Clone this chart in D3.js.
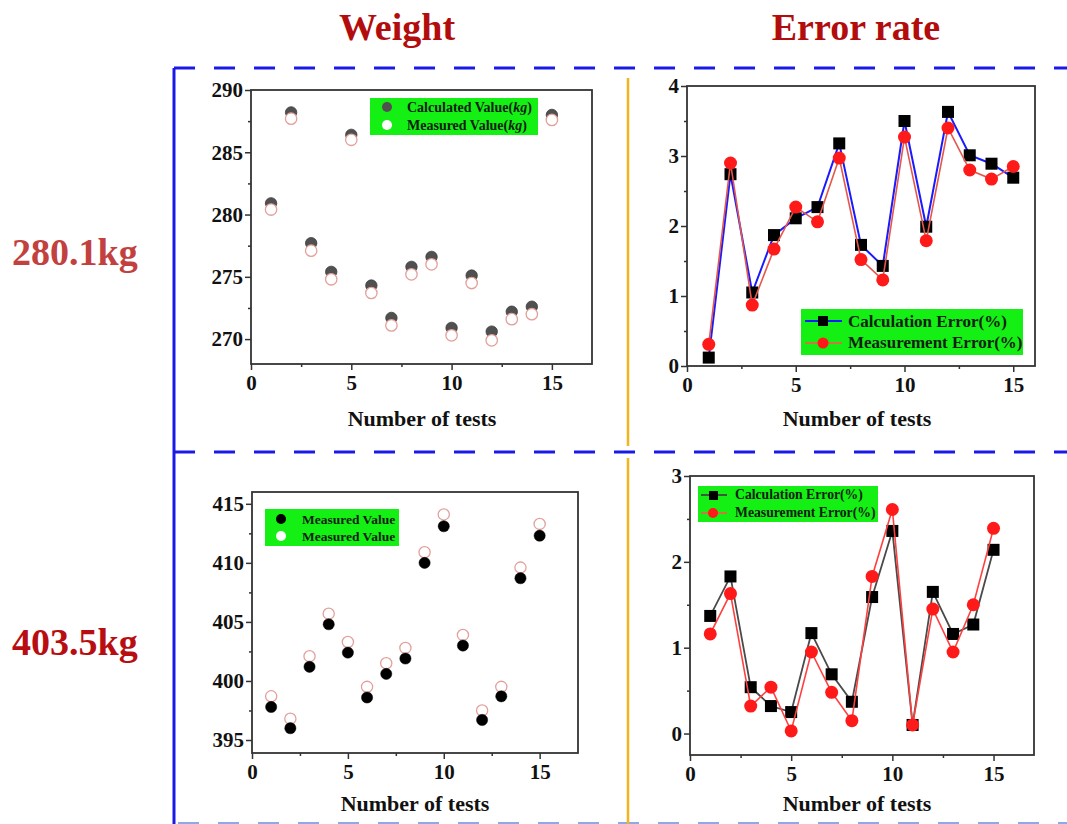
<!DOCTYPE html>
<html>
<head>
<meta charset="utf-8">
<script src="https://cdn.jsdelivr.net/npm/d3@7"></script>
<style>
  html, body { margin: 0; padding: 0; background: #fff; }
  svg { display: block; }
  text { font-family: "Liberation Serif", "Times New Roman", serif; font-weight: bold; }
</style>
</head>
<body>
<svg id="chart" width="1067" height="824"></svg>
<script>
// ---- data -------------------------------------------------------------
const tests = [1, 2, 3, 4, 5, 6, 7, 8, 9, 10, 11, 12, 13, 14, 15];

// 280.1 kg load: weight (kg)
const weight280Calculated = [280.9, 288.2, 277.7, 275.4, 286.4, 274.3, 271.7, 275.8, 276.6, 270.9, 275.1, 270.6, 272.2, 272.6, 288.0];
const weight280Measured   = [280.4, 287.7, 277.1, 274.8, 286.0, 273.7, 271.1, 275.2, 276.0, 270.3, 274.5, 269.9, 271.6, 272.0, 287.6];

// 280.1 kg load: error rate (%)
const error280Calculation = [0.12, 2.74, 1.05, 1.87, 2.11, 2.27, 3.18, 1.73, 1.43, 3.50, 1.99, 3.63, 3.01, 2.89, 2.69];
const error280Measurement = [0.31, 2.90, 0.87, 1.67, 2.27, 2.06, 2.97, 1.52, 1.23, 3.27, 1.79, 3.40, 2.80, 2.67, 2.85];

// 403.5 kg load: weight (kg)
const weight403Filled = [397.8, 396.0, 401.2, 404.8, 402.4, 398.6, 400.6, 401.9, 410.0, 413.1, 403.0, 396.7, 398.7, 408.7, 412.3];
const weight403Open   = [398.7, 396.8, 402.1, 405.7, 403.3, 399.5, 401.5, 402.8, 410.9, 414.1, 403.9, 397.5, 399.5, 409.6, 413.3];

// 403.5 kg load: error rate (%)
const error403Calculation = [1.37, 1.83, 0.54, 0.32, 0.25, 1.17, 0.69, 0.37, 1.59, 2.36, 0.10, 1.65, 1.16, 1.27, 2.14];
const error403Measurement = [1.16, 1.63, 0.32, 0.54, 0.03, 0.95, 0.48, 0.15, 1.83, 2.61, 0.10, 1.45, 0.95, 1.50, 2.39];

// tick values
const xTicks = [0, 5, 10, 15];
const xMinorTicks = [2.5, 7.5, 12.5];
const yTicksW280 = [270, 275, 280, 285, 290];
const yMinorW280 = [272.5, 277.5, 282.5, 287.5];
const yTicksE280 = [0, 1, 2, 3, 4];
const yMinorE280 = [0.5, 1.5, 2.5, 3.5];
const yTicksW403 = [395, 400, 405, 410, 415];
const yMinorW403 = [397.5, 402.5, 407.5, 412.5];
const yTicksE403 = [0, 1, 2, 3];
const yMinorE403 = [0.5, 1.5, 2.5];

// legend labels
const legendW280 = ["Calculated Value", "Measured Value"];
const legendE = ["Calculation Error(%)", "Measurement Error(%)"];
const legendW403 = ["Measured Value", "Measured Value"];

const svg = d3.select("#chart");

// ---- section frame ----------------------------------------------------
const frame = svg.append("g");
frame.append("line").attr("x1", 174).attr("x2", 174).attr("y1", 68).attr("y2", 824)
  .attr("stroke", "#1a1ae6").attr("stroke-width", 3);
[68, 452].forEach(y => {
  frame.append("line").attr("x1", 174).attr("x2", 1067).attr("y1", y).attr("y2", y)
    .attr("stroke", "#1a1ae6").attr("stroke-width", 3).attr("stroke-dasharray", "21 19");
});
frame.append("line").attr("x1", 178).attr("x2", 1067).attr("y1", 823).attr("y2", 823)
  .attr("stroke", "#8fa8e8").attr("stroke-width", 2).attr("stroke-dasharray", "21 19");
[[78, 446], [458, 824]].forEach(([a, b]) => {
  frame.append("line").attr("x1", 628).attr("x2", 628).attr("y1", a).attr("y2", b)
    .attr("stroke", "#f2b51c").attr("stroke-width", 2.5);
});

// column and row headings
svg.append("text").attr("x", 397).attr("y", 40).attr("text-anchor", "middle")
  .attr("font-size", 38).attr("fill", "#b30c0c").text("Weight");
svg.append("text").attr("x", 856).attr("y", 40).attr("text-anchor", "middle")
  .attr("font-size", 38).attr("fill", "#b30c0c").text("Error rate");
svg.append("text").attr("x", 12).attr("y", 265)
  .attr("font-size", 38).attr("fill", "#c2413f").text("280.1kg");
svg.append("text").attr("x", 12).attr("y", 655)
  .attr("font-size", 38).attr("fill", "#b80e12").text("403.5kg");

// ---- panel helper -----------------------------------------------------
function panel(o) {
  const g = svg.append("g");
  const x = d3.scaleLinear().domain(o.xDomain).range([o.left, o.right]);
  const y = d3.scaleLinear().domain(o.yDomain).range([o.bottom, o.top]);

  const styleAxis = sel => {
    sel.select(".domain").remove();
    sel.selectAll("line").attr("stroke", "#333").attr("stroke-width", 1.5);
    sel.selectAll("text").attr("font-size", 21).attr("fill", "#111")
      .attr("font-family", "Liberation Serif, serif").attr("font-weight", "bold");
  };

  g.append("g").attr("transform", `translate(0,${o.bottom})`)
    .call(d3.axisBottom(x).tickValues(xTicks).tickSize(6).tickPadding(5).tickFormat(d3.format("d")))
    .call(styleAxis);
  g.append("g").attr("transform", `translate(0,${o.bottom})`)
    .call(d3.axisBottom(x).tickValues(xMinorTicks).tickSize(3).tickFormat(""))
    .call(styleAxis);
  g.append("g").attr("transform", `translate(${o.left},0)`)
    .call(d3.axisLeft(y).tickValues(o.yTicks).tickSize(6).tickPadding(2).tickFormat(d3.format("d")))
    .call(styleAxis);
  g.append("g").attr("transform", `translate(${o.left},0)`)
    .call(d3.axisLeft(y).tickValues(o.yMinor).tickSize(3).tickFormat(""))
    .call(styleAxis);

  g.append("rect").attr("x", o.left).attr("y", o.top)
    .attr("width", o.right - o.left).attr("height", o.bottom - o.top)
    .attr("fill", "none").attr("stroke", "#333").attr("stroke-width", 1.8);

  g.append("text").attr("x", o.titleX).attr("y", o.titleY).attr("text-anchor", "middle")
    .attr("font-size", 22).attr("fill", "#111").text("Number of tests");

  return { g, x, y };
}

function scatter(p, values, opt) {
  p.g.append("g").selectAll("circle").data(values).join("circle")
    .attr("cx", (d, i) => p.x(tests[i])).attr("cy", d => p.y(d)).attr("r", opt.r)
    .attr("fill", opt.fill).attr("stroke", opt.stroke).attr("stroke-width", opt.sw);
}

function lineSeries(p, values, color, width) {
  const line = d3.line().x((d, i) => p.x(tests[i])).y(d => p.y(d));
  p.g.append("path").datum(values).attr("d", line)
    .attr("fill", "none").attr("stroke", color).attr("stroke-width", width);
}

function squares(p, values, size, fill) {
  p.g.append("g").selectAll("rect").data(values).join("rect")
    .attr("x", (d, i) => p.x(tests[i]) - size / 2).attr("y", d => p.y(d) - size / 2)
    .attr("width", size).attr("height", size).attr("fill", fill);
}

function circles(p, values, r, fill) {
  p.g.append("g").selectAll("circle").data(values).join("circle")
    .attr("cx", (d, i) => p.x(tests[i])).attr("cy", d => p.y(d)).attr("r", r).attr("fill", fill);
}

// ---- 280.1 kg : weight ------------------------------------------------
const pTL = panel({ left: 251, right: 592, top: 90, bottom: 364,
  xDomain: [0, 17], yDomain: [268, 290], yTicks: yTicksW280, yMinor: yMinorW280,
  titleX: 422, titleY: 426 });
scatter(pTL, weight280Calculated, { r: 5.7, fill: "#505050", stroke: "#3a3a3a", sw: 0.8 });
scatter(pTL, weight280Measured, { r: 5.7, fill: "#fff", stroke: "#e3a09a", sw: 1.3 });
{
  const lg = pTL.g.append("g");
  lg.append("rect").attr("x", 370).attr("y", 98).attr("width", 168).attr("height", 37).attr("fill", "#14f014");
  lg.append("circle").attr("cx", 387).attr("cy", 107).attr("r", 5).attr("fill", "#505050");
  lg.append("circle").attr("cx", 387).attr("cy", 125).attr("r", 5).attr("fill", "#fff");
  legendW280.forEach((t, i) => {
    const tx = lg.append("text").attr("x", 407).attr("y", 112 + i * 18).attr("font-size", 14).attr("fill", "#102010");
    tx.append("tspan").text(t + "(");
    tx.append("tspan").attr("font-style", "italic").text("kg");
    tx.append("tspan").text(")");
  });
}

// ---- 280.1 kg : error rate --------------------------------------------
const pTR = panel({ left: 687, right: 1035, top: 86, bottom: 366,
  xDomain: [0, 16], yDomain: [0, 4], yTicks: yTicksE280, yMinor: yMinorE280,
  titleX: 857, titleY: 426 });
lineSeries(pTR, error280Calculation, "#1a1aff", 2);
squares(pTR, error280Calculation, 12, "#000");
lineSeries(pTR, error280Measurement, "#e4574c", 1.6);
circles(pTR, error280Measurement, 6.5, "#ff1a1a");
{
  const lg = pTR.g.append("g");
  lg.append("rect").attr("x", 801).attr("y", 309).attr("width", 222).attr("height", 46).attr("fill", "#14f014");
  lg.append("line").attr("x1", 805).attr("x2", 842).attr("y1", 321).attr("y2", 321).attr("stroke", "#1a1aff").attr("stroke-width", 2);
  lg.append("rect").attr("x", 818).attr("y", 316).attr("width", 10).attr("height", 10).attr("fill", "#000");
  lg.append("line").attr("x1", 805).attr("x2", 842).attr("y1", 343).attr("y2", 343).attr("stroke", "#c87a3c").attr("stroke-width", 2);
  lg.append("circle").attr("cx", 823).attr("cy", 343).attr("r", 5.5).attr("fill", "#ff1a1a");
  legendE.forEach((t, i) => {
    lg.append("text").attr("x", 848).attr("y", 327 + i * 21).attr("font-size", 17).attr("fill", "#102010").text(t);
  });
}

// ---- 403.5 kg : weight ------------------------------------------------
const pBL = panel({ left: 252, right: 578, top: 492, bottom: 753,
  xDomain: [0, 17], yDomain: [393.9, 416], yTicks: yTicksW403, yMinor: yMinorW403,
  titleX: 415, titleY: 811 });
scatter(pBL, weight403Open, { r: 5.6, fill: "#fff", stroke: "#e3a09a", sw: 1.3 });
scatter(pBL, weight403Filled, { r: 5.6, fill: "#000", stroke: "#000", sw: 0.5 });
{
  const lg = pBL.g.append("g");
  lg.append("rect").attr("x", 265).attr("y", 509).attr("width", 134).attr("height", 37).attr("fill", "#14f014");
  lg.append("circle").attr("cx", 281).attr("cy", 519).attr("r", 5).attr("fill", "#000");
  lg.append("circle").attr("cx", 281).attr("cy", 536).attr("r", 5).attr("fill", "#fff");
  legendW403.forEach((t, i) => {
    lg.append("text").attr("x", 302).attr("y", 524 + i * 17).attr("font-size", 13.5).attr("fill", "#102010").text(t);
  });
}

// ---- 403.5 kg : error rate --------------------------------------------
const pBR = panel({ left: 690, right: 1034, top: 476, bottom: 755,
  xDomain: [0, 17], yDomain: [-0.25, 3], yTicks: yTicksE403, yMinor: yMinorE403,
  titleX: 857, titleY: 811 });
lineSeries(pBR, error403Calculation, "#4a4a4a", 1.8);
squares(pBR, error403Calculation, 12, "#000");
lineSeries(pBR, error403Measurement, "#ff4040", 1.6);
circles(pBR, error403Measurement, 6.5, "#ff1a1a");
{
  const lg = pBR.g.append("g");
  lg.append("rect").attr("x", 698).attr("y", 486).attr("width", 180).attr("height", 36).attr("fill", "#14f014");
  lg.append("line").attr("x1", 701).attr("x2", 727).attr("y1", 495).attr("y2", 495).attr("stroke", "#3a5a3a").attr("stroke-width", 2);
  lg.append("rect").attr("x", 709).attr("y", 491).attr("width", 9).attr("height", 9).attr("fill", "#000");
  lg.append("line").attr("x1", 701).attr("x2", 727).attr("y1", 513).attr("y2", 513).attr("stroke", "#c87a3c").attr("stroke-width", 2);
  lg.append("circle").attr("cx", 713).attr("cy", 513).attr("r", 5).attr("fill", "#ff1a1a");
  legendE.forEach((t, i) => {
    lg.append("text").attr("x", 735).attr("y", 499 + i * 18).attr("font-size", 13.7).attr("fill", "#102010").text(t);
  });
}
</script>
</body>
</html>
